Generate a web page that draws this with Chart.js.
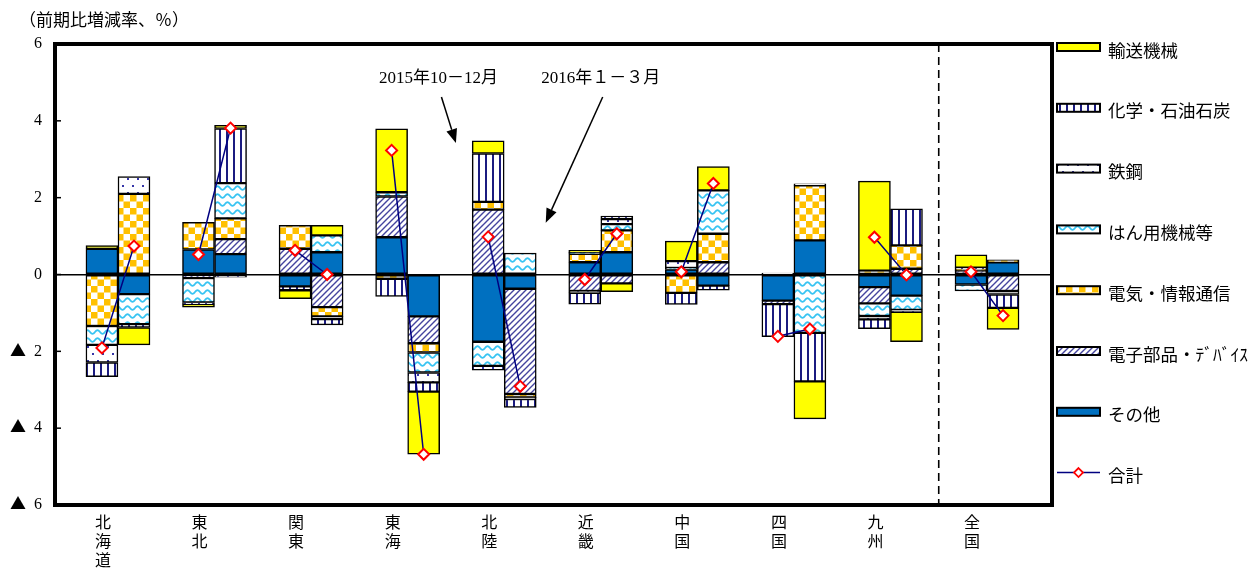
<!DOCTYPE html>
<html lang="ja">
<head>
<meta charset="utf-8">
<title>地域別・業種別寄与度</title>
<script src="https://cdn.jsdelivr.net/npm/chart.js@4.4.1/dist/chart.umd.min.js"></script>
<style>
  @font-face {
    font-family: 'TriMark';
    src: local('Noto Sans CJK JP Regular'), local('NotoSansCJKjp-Regular'), local('Noto Sans CJK JP');
    unicode-range: U+25B2;
  }
  html, body { margin: 0; padding: 0; background: #fff; }
  #wrap { width: 1251px; height: 568px; position: relative; }
</style>
</head>
<body>
<div id="wrap"><canvas id="chart"></canvas></div>
<script>
const regions = ['北海道', '東北', '関東', '東海', '北陸', '近畿', '中国', '四国', '九州', '全国'];

// 2015年10-12月 (left bar of each region)
const sonota15 = [0.67, 0.65, -0.31, 0.97, -1.75, 0.32, 0.13, -0.68, -0.33, -0.26];
const denshi15 = [0.00, -0.09, 0.67, 1.06, 1.69, -0.43, 0.00, -0.09, -0.42, 0.10];
const denki15  = [-1.34, 0.71, 0.61, -0.11, 0.20, 0.22, -0.48, 0.00, 0.10, 0.04];
const hanyo15  = [-0.49, -0.64, 0.00, 0.11, -0.63, 0.03, 0.04, 0.00, -0.33, -0.17];
const tekko15  = [-0.46, 0.00, 0.00, 0.00, -0.11, -0.05, 0.18, 0.04, -0.09, 0.00];
const kagaku15 = [-0.37, -0.04, -0.10, -0.46, 1.26, -0.29, -0.30, -0.85, -0.24, 0.04];
const yuso15   = [0.08, -0.08, -0.22, 1.65, 0.33, 0.06, 0.52, 0.00, 2.33, 0.33];
const total15  = [-1.91, 0.52, 0.63, 3.23, 0.98, -0.13, 0.07, -1.61, 0.97, 0.07];

// 2016年1-3月 (right bar of each region)
const sonota16 = [-0.51, 0.53, 0.58, -1.09, -0.37, 0.58, -0.29, 0.89, -0.55, 0.32];
const denshi16 = [0.00, 0.39, -0.85, -0.70, -2.74, -0.23, 0.32, 0.00, 0.15, -0.43];
const denki16  = [2.10, 0.54, -0.24, -0.24, -0.09, 0.57, 0.74, 1.43, 0.61, 0.06];
const hanyo16  = [-0.78, 0.92, 0.44, -0.52, 0.56, 0.16, 1.13, -1.52, -0.37, 0.00];
const tekko16  = [0.45, -0.07, -0.07, -0.26, -0.04, 0.13, 0.00, 0.04, -0.05, -0.09];
const kagaku16 = [-0.09, 1.42, -0.15, -0.24, -0.22, 0.08, -0.12, -1.26, 0.95, -0.35];
const yuso16   = [-0.45, 0.08, 0.26, -1.63, 0.00, -0.22, 0.62, -0.98, -0.78, -0.56];
const total16  = [0.74, 3.81, 0.00, -4.68, -2.91, 1.06, 2.37, -1.42, -0.01, -1.07];

const yTicks = [6, 4, 2, 0, -2, -4, -6];
const yTickLabels = ['6', '4', '2', '0', '▲  2', '▲  4', '▲  6'];

const SERIF = 'TriMark, "Liberation Serif", "Noto Sans CJK JP", serif';
const SANS = '"Noto Sans CJK JP", sans-serif';
const GAP = 0.166;    // half a bar, in region units
const BAR_W = 32;

// fill patterns
function tile(w, h, draw) {
  const c = document.createElement('canvas');
  c.width = w; c.height = h;
  const g = c.getContext('2d');
  g.fillStyle = '#fff';
  g.fillRect(0, 0, w, h);
  draw(g);
  return c;
}
const probe = document.createElement('canvas').getContext('2d');
const pat = c => probe.createPattern(c, 'repeat');

const fills = {
  yuso: '#ffff00',
  sonota: '#0070c0',
  kagaku: pat(tile(7, 7, g => {
    g.fillStyle = '#1b1b80';
    g.fillRect(2, 0, 2, 7);
  })),
  tekko: pat(tile(10, 14, g => {
    g.fillStyle = '#3535a8';
    g.fillRect(2, 3, 2, 2);
    g.fillRect(7, 10, 2, 2);
  })),
  hanyo: pat(tile(10, 8, g => {
    g.strokeStyle = '#38c4f2';
    g.lineWidth = 1.8;
    g.beginPath();
    for (let x = -1; x <= 11; x += 0.5) {
      const y = 4 + 1.8 * Math.sin(x / 10 * 2 * Math.PI);
      if (x === -1) g.moveTo(x, y); else g.lineTo(x, y);
    }
    g.stroke();
  })),
  denki: pat(tile(13, 13, g => {
    g.fillStyle = '#ffc000';
    g.fillRect(0, 0, 6.5, 6.5);
    g.fillRect(6.5, 6.5, 6.5, 6.5);
  })),
  denshi: pat(tile(6, 6, g => {
    g.strokeStyle = '#44449e';
    g.lineWidth = 1.4;
    g.beginPath();
    g.moveTo(-1, 7); g.lineTo(7, -1);
    g.moveTo(-1, 1); g.lineTo(1, -1);
    g.moveTo(5, 7); g.lineTo(7, 5);
    g.stroke();
  }))
};

// stacking order: first entry sits next to the zero line
const series = [
  { key: 'sonota', name: 'その他', v15: sonota15, v16: sonota16 },
  { key: 'denshi', name: '電子部品・ﾃﾞﾊﾞｲｽ', v15: denshi15, v16: denshi16 },
  { key: 'denki', name: '電気・情報通信', v15: denki15, v16: denki16 },
  { key: 'hanyo', name: 'はん用機械等', v15: hanyo15, v16: hanyo16 },
  { key: 'tekko', name: '鉄鋼', v15: tekko15, v16: tekko16 },
  { key: 'kagaku', name: '化学・石油石炭', v15: kagaku15, v16: kagaku16 },
  { key: 'yuso', name: '輸送機械', v15: yuso15, v16: yuso16 }
];

const barSets = series.map(s => ({
  type: 'bar',
  label: s.name,
  data: regions.flatMap((_, i) => [{ x: i - GAP, y: s.v15[i] }, { x: i + GAP, y: s.v16[i] }]),
  backgroundColor: fills[s.key],
  borderColor: '#000',
  borderWidth: 1.5,
  borderSkipped: false,
  barThickness: BAR_W
}));

const totalSet = {
  type: 'line',
  label: '合計',
  data: regions.flatMap((_, i) => [
    { x: i - GAP, y: total15[i] },
    { x: i + GAP, y: total16[i] },
    { x: i + 0.5, y: null }
  ]),
  borderColor: '#000080',
  borderWidth: 1.5,
  pointStyle: 'rectRot',
  pointRadius: 5.5,
  pointBackgroundColor: '#fff',
  pointBorderColor: '#ff0000',
  pointBorderWidth: 2,
  spanGaps: false
};

const notes = [
  { text: '2015年10－12月', tx: 3.32, ty: 5.1, from: [3.35, 4.62], to: [3.5, 3.42] },
  { text: '2016年１－３月', tx: 5.0, ty: 5.1, from: [5.02, 4.62], to: [4.43, 1.35] }
];
const DIVIDER = 8.5;

function arrow(ctx, x1, y1, x2, y2) {
  const ang = Math.atan2(y2 - y1, x2 - x1);
  const len = 14, half = 5.5;
  const bx = x2 - len * Math.cos(ang), by = y2 - len * Math.sin(ang);
  ctx.beginPath();
  ctx.moveTo(x1, y1);
  ctx.lineTo(bx, by);
  ctx.stroke();
  ctx.beginPath();
  ctx.moveTo(x2, y2);
  ctx.lineTo(bx + half * Math.sin(ang), by - half * Math.cos(ang));
  ctx.lineTo(bx - half * Math.sin(ang), by + half * Math.cos(ang));
  ctx.closePath();
  ctx.fill();
}

const decor = {
  id: 'decor',
  beforeDatasetsDraw(chart) {
    const { ctx, chartArea: a, scales: { x } } = chart;
    ctx.save();
    ctx.strokeStyle = '#000';
    ctx.lineWidth = 1.6;
    ctx.setLineDash([8, 5]);
    const dx = x.getPixelForValue(DIVIDER);
    ctx.beginPath();
    ctx.moveTo(dx, a.top);
    ctx.lineTo(dx, a.bottom);
    ctx.stroke();
    ctx.restore();
  },
  afterDraw(chart) {
    const { ctx, chartArea: a, scales: { x, y } } = chart;
    ctx.save();
    // frame
    ctx.strokeStyle = '#000';
    ctx.lineWidth = 4;
    ctx.strokeRect(a.left, a.top, a.right - a.left, a.bottom - a.top);
    ctx.lineWidth = 1.5;
    y.ticks.forEach(t => {
      const py = y.getPixelForValue(t.value);
      ctx.beginPath();
      ctx.moveTo(a.left, py);
      ctx.lineTo(a.left + 6, py);
      ctx.stroke();
    });

    // axis caption
    ctx.fillStyle = '#000';
    ctx.font = '17px ' + SANS;
    ctx.textBaseline = 'middle';
    ctx.textAlign = 'left';
    ctx.fillText('（前期比増減率、％）', 19, 20);

    // period notes
    ctx.font = '17px ' + SERIF;
    ctx.textAlign = 'center';
    ctx.lineWidth = 1.5;
    notes.forEach(n => {
      ctx.fillText(n.text, x.getPixelForValue(n.tx), y.getPixelForValue(n.ty));
      arrow(ctx, x.getPixelForValue(n.from[0]), y.getPixelForValue(n.from[1]),
        x.getPixelForValue(n.to[0]), y.getPixelForValue(n.to[1]));
    });

    // legend
    const items = [...series].reverse().map(s => ({ name: s.name, fill: fills[s.key] }));
    items.push({ name: '合計', line: true });
    const bx = a.right + 5, bw = 43, step = 60.8;
    ctx.font = '17.5px ' + SANS;
    ctx.textAlign = 'left';
    items.forEach((it, i) => {
      const cy = a.top + 3 + i * step;
      if (it.line) {
        ctx.strokeStyle = '#000080';
        ctx.lineWidth = 1.5;
        ctx.beginPath();
        ctx.moveTo(bx, cy);
        ctx.lineTo(bx + bw, cy);
        ctx.stroke();
        const mx = bx + bw / 2, r = 4.5;
        ctx.beginPath();
        ctx.moveTo(mx, cy - r); ctx.lineTo(mx + r, cy); ctx.lineTo(mx, cy + r); ctx.lineTo(mx - r, cy);
        ctx.closePath();
        ctx.fillStyle = '#fff';
        ctx.fill();
        ctx.strokeStyle = '#ff0000';
        ctx.lineWidth = 1.8;
        ctx.stroke();
      } else {
        ctx.fillStyle = it.fill;
        ctx.fillRect(bx, cy - 4, bw, 8);
        ctx.strokeStyle = '#000';
        ctx.lineWidth = 2;
        ctx.strokeRect(bx, cy - 4, bw, 8);
      }
      ctx.fillStyle = '#000';
      ctx.fillText(it.name, bx + 51, cy + 3);
    });
    ctx.restore();
  }
};

function draw() {
  new Chart(document.getElementById('chart'), {
    type: 'bar',
    data: { datasets: [totalSet, ...barSets] },
    options: {
      responsive: true,
      maintainAspectRatio: false,
      animation: false,
      layout: { padding: { top: 44, right: 199, left: 0, bottom: 0 } },
      plugins: {
        legend: { display: false },
        tooltip: { enabled: false }
      },
      scales: {
        x: {
          type: 'linear',
          min: -0.652,
          max: 9.673,
          offset: false,
          stacked: true,
          afterBuildTicks: s => { s.ticks = regions.map((_, i) => ({ value: i })); },
          afterFit: s => { s.height = 63; },
          grid: { display: false, drawTicks: false, offset: false },
          border: { display: false },
          ticks: {
            autoSkip: false,
            maxRotation: 0,
            labelOffset: -15,
            padding: 9,
            color: '#000',
            font: { family: SERIF, size: 16, lineHeight: 1.2 },
            callback: v => regions[v] ? regions[v].split('') : ''
          }
        },
        y: {
          min: -6,
          max: 6,
          stacked: true,
          afterBuildTicks: s => { s.ticks = yTicks.map(v => ({ value: v })); },
          afterFit: s => { s.width = 55; },
          grid: {
            drawTicks: false,
            lineWidth: 1.6,
            color: c => (c.tick && c.tick.value === 0) ? '#000' : 'rgba(0,0,0,0)'
          },
          border: { display: false },
          ticks: {
            padding: 13,
            color: '#000',
            font: { family: SERIF, size: 16 },
            callback: v => yTickLabels[yTicks.indexOf(v)]
          }
        }
      }
    },
    plugins: [decor]
  });
}

document.fonts.load('16px TriMark', '▲').then(draw, draw);
</script>
</body>
</html>
